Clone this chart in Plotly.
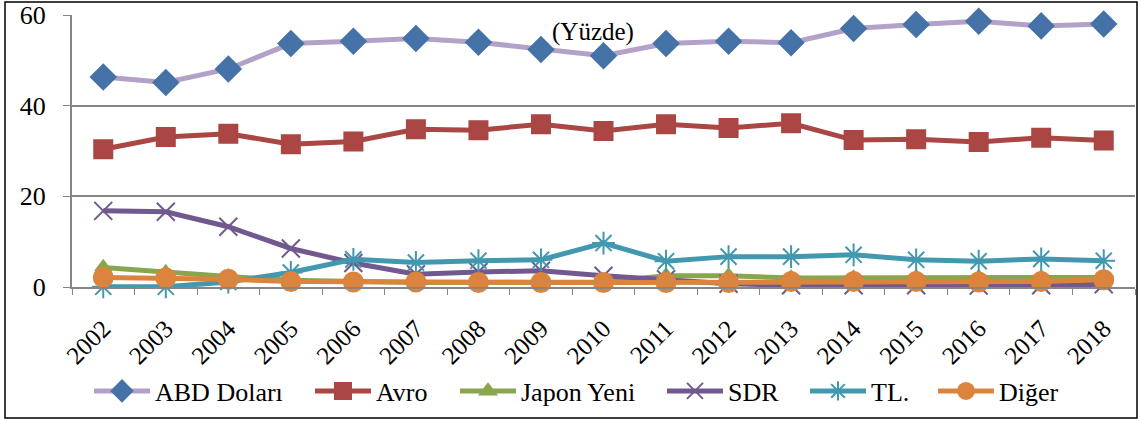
import plotly.graph_objects as go

# data (percent)
years = [str(y) for y in range(2002, 2019)]
abd_dolari = [46.3, 45.1, 48.1, 53.7, 54.2, 54.8, 54.0, 52.4, 51.0, 53.7, 54.2, 53.9, 57.0, 57.9, 58.6, 57.6, 58.0]
avro = [30.4, 33.1, 33.8, 31.5, 32.1, 34.8, 34.6, 35.9, 34.4, 35.9, 35.1, 36.1, 32.4, 32.6, 32.0, 32.9, 32.3]
japon_yeni = [4.3, 3.2, 2.3, 1.5, 1.2, 1.0, 1.0, 1.1, 1.1, 2.5, 2.5, 2.0, 2.0, 2.1, 2.1, 2.1, 2.1]
sdr = [16.8, 16.6, 13.3, 8.5, 5.3, 2.8, 3.3, 3.6, 2.5, 1.7, 0.7, 0.4, 0.4, 0.4, 0.3, 0.4, 0.6]
tl = [0.05, 0.05, 1.1, 3.2, 6.1, 5.4, 5.8, 6.0, 9.7, 5.7, 6.7, 6.7, 7.1, 6.0, 5.7, 6.2, 5.8]
diger = [2.1, 2.0, 1.7, 1.2, 1.1, 1.1, 1.0, 1.0, 1.0, 1.0, 1.0, 1.2, 1.2, 1.2, 1.1, 1.2, 1.6]

W, H = 1140, 421
ML, MR, MT, MB = 72, 5, 15, 134
SERIF = "Liberation Serif"

# name, values, line colour, marker colour, symbol, size, legend left edge (px)
series = [
    ("ABD Doları", abd_dolari, "#B3A2C7", "#4572A7", "diamond", 19, 89),
    ("Avro", avro, "#AA4643", "#AA4643", "square", 18, 310),
    ("Japon Yeni", japon_yeni, "#89A54E", "#89A54E", "triangle-up", 14, 455),
    ("SDR", sdr, "#71588F", "#71588F", "x-thin", 18, 662),
    ("TL.", tl, "#4198AF", "#4198AF", "asterisk", 19, 805),
    ("Diğer", diger, "#DB843D", "#DB843D", "circle", 19, 933),
]

pw, ph = W - ML - MR, H - MT - MB
def px_x(p):
    return (p - ML) / pw
def px_y(p):
    return (H - MB - p) / ph

fig = go.Figure()
legends = {}
for i, (name, vals, lc, mc, sym, size, lx) in enumerate(series):
    key = "legend" if i == 0 else f"legend{i + 1}"
    fig.add_trace(go.Scatter(
        x=years, y=vals, name=name, mode="lines+markers",
        line=dict(color=lc, width=5),
        marker=dict(symbol=sym, size=size, color=mc, line=dict(color=mc, width=2)),
        cliponaxis=False, legend=key,
    ))
    legends[key] = dict(orientation="h", x=px_x(lx), xanchor="left", y=px_y(391), yanchor="middle",
                        font=dict(family=SERIF, size=26, color="black"), itemwidth=56,
                        bgcolor="rgba(0,0,0,0)")

fig.add_annotation(text="(Yüzde)", x=0.49, y=56.3, xref="paper", yref="y",
                   showarrow=False, font=dict(family=SERIF, size=25, color="black"))

# outer frame
fig.add_shape(type="rect", xref="paper", yref="paper",
              x0=px_x(5), x1=px_x(1137), y0=px_y(418), y1=px_y(2),
              line=dict(color="black", width=1.5))

fig.update_layout(
    width=W, height=H,
    margin=dict(l=ML, r=MR, t=MT, b=MB, autoexpand=False),
    paper_bgcolor="white", plot_bgcolor="white",
    font=dict(family=SERIF, size=20, color="black"),
    showlegend=True,
    **legends,
)
fig.update_xaxes(type="category", range=[-0.5, 16.5], tickangle=-45, automargin=False,
                 showline=True, linecolor="#868686", linewidth=2,
                 ticks="outside", tickson="boundaries", ticklen=6, tickcolor="#868686",
                 ticklabelstandoff=15,
                 showgrid=False, tickfont=dict(family=SERIF, size=25, color="black"))
fig.update_yaxes(range=[0, 60], dtick=20, automargin=False,
                 showline=True, linecolor="#868686", linewidth=2,
                 ticks="outside", ticklen=7, tickcolor="#868686",
                 ticklabelstandoff=12,
                 showgrid=True, gridcolor="#868686", gridwidth=2, zeroline=False,
                 tickfont=dict(family=SERIF, size=26, color="black"))

# drop the default 8px body margin so the figure sits at the window origin
fig.write_html("out.html", config={"displayModeBar": False},
               post_script="document.body.style.margin='0px';")
